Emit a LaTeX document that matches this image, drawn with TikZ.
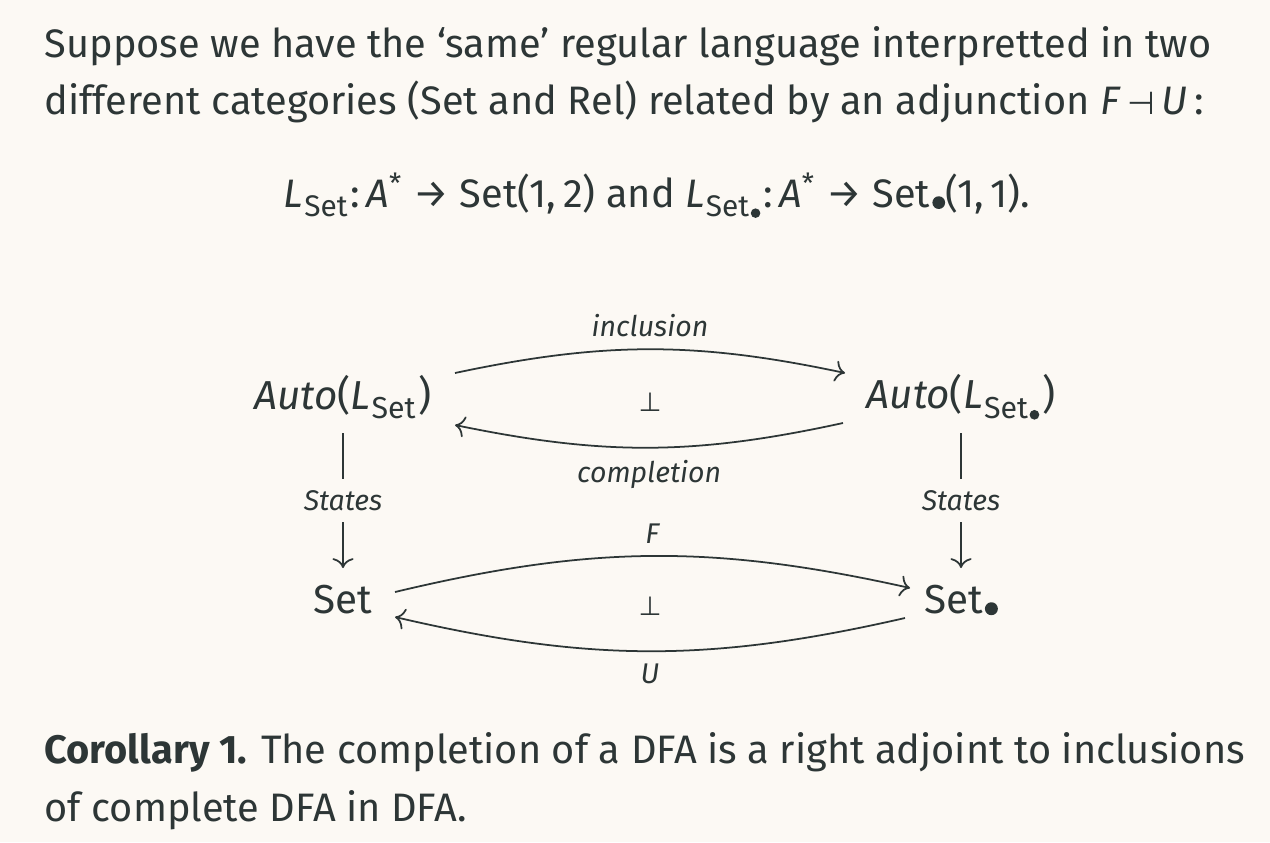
\documentclass[tikz,border=0pt]{standalone}
\usepackage{fontspec}
\setmainfont{Fira Sans}
\newfontfamily\symfont{DejaVu Sans}
\usetikzlibrary{calc,arrows.meta}
\definecolor{ink}{HTML}{2D3636}
\definecolor{paper}{HTML}{FCF9F4}
\newcommand{\bul}{\kern0.6pt\tikz[baseline=0pt]\fill[ink] (0,0.11em) circle (0.16em);}
\newcommand{\Lof}[1]{\textit{L}\kern0.3pt\raisebox{-0.45ex}{\scalebox{0.75}{#1}}\kern0.8pt}
\newcommand{\sym}[1]{{\symfont #1}}

\begin{document}
\begin{tikzpicture}[x=0.01cm,y=-0.01cm,
  every node/.style={text=ink},
  body/.style={font=\fontsize{11.3}{13}\selectfont, inner sep=0pt},
  obj/.style={font=\fontsize{11.5}{13}\selectfont},
  lbl/.style={font=\fontsize{8.1}{10}\selectfont\itshape},
  arr/.style={draw=ink,-{Computer Modern Rightarrow[length=2.8pt,width=6pt]},line width=0.5pt}]
  \fill[paper] (0,0) rectangle (1270,842);
  \useasboundingbox (0,0) rectangle (1270,842);

  % text above
  \node[body, anchor=base west] (intro1) at (44,57) {Suppose we have the `same' regular language interpretted in two};
  \node[body, anchor=base west] (intro2) at (44,114) {different categories (Set and Rel) related by an adjunction \textit{F}\,\sym{\scalebox{0.8}{⊣}}\,\textit{U}\,:};
  \node[body, anchor=base] (eq) at (657,207) {\Lof{Set}:\,\textit{A}\textsuperscript{*} → Set(1,\,2) and \Lof{Set\bul}:\,\textit{A}\textsuperscript{*} → Set\bul(1,\,1).};

  % the square
  \node[obj] (auto1) at (343,397) {\textit{Auto}(\Lof{Set})};
  \node[obj] (auto2) at (961,397) {\textit{Auto}(\Lof{Set\bul})};
  \node[obj] (set1) at (343,600) {Set};
  \node[obj] (set2) at (961,600) {Set\bul};
  \node (perp1) at (650,402) {\fontsize{7.5}{8}\selectfont\sym{⊥}};
  \node (perp2) at (650,606) {\fontsize{7.5}{8}\selectfont\sym{⊥}};

  \draw[arr] ($(auto1)+(112,-24)$) to[bend left=12] node[lbl, above] {inclusion} ($(auto2)+(-116,-24)$);
  \draw[arr] ($(auto2)+(-118,26)$) to[bend left=12] node[lbl, below] {completion} ($(auto1)+(112,28)$);
  \draw[arr] ($(auto1)+(0,36)$) -- node[lbl, fill=paper] {States} ($(set1)+(0,-32)$);
  \draw[arr] ($(auto2)+(0,36)$) -- node[lbl, fill=paper] {States} ($(set2)+(0,-32)$);
  \draw[arr] ($(set1)+(52,-8)$) to[bend left=13] node[lbl, above] {F} ($(set2)+(-51,-12)$);
  \draw[arr] ($(set2)+(-56,18)$) to[bend left=13] node[lbl, below] {U} ($(set1)+(52,17)$);

  % text below
  \node[body, anchor=base west] (cor1) at (44,763) {\textbf{Corollary 1.} The completion of a DFA is a right adjoint to inclusions};
  \node[body, anchor=base west] (cor2) at (44,821) {of complete DFA in DFA.};
\end{tikzpicture}
\end{document}
